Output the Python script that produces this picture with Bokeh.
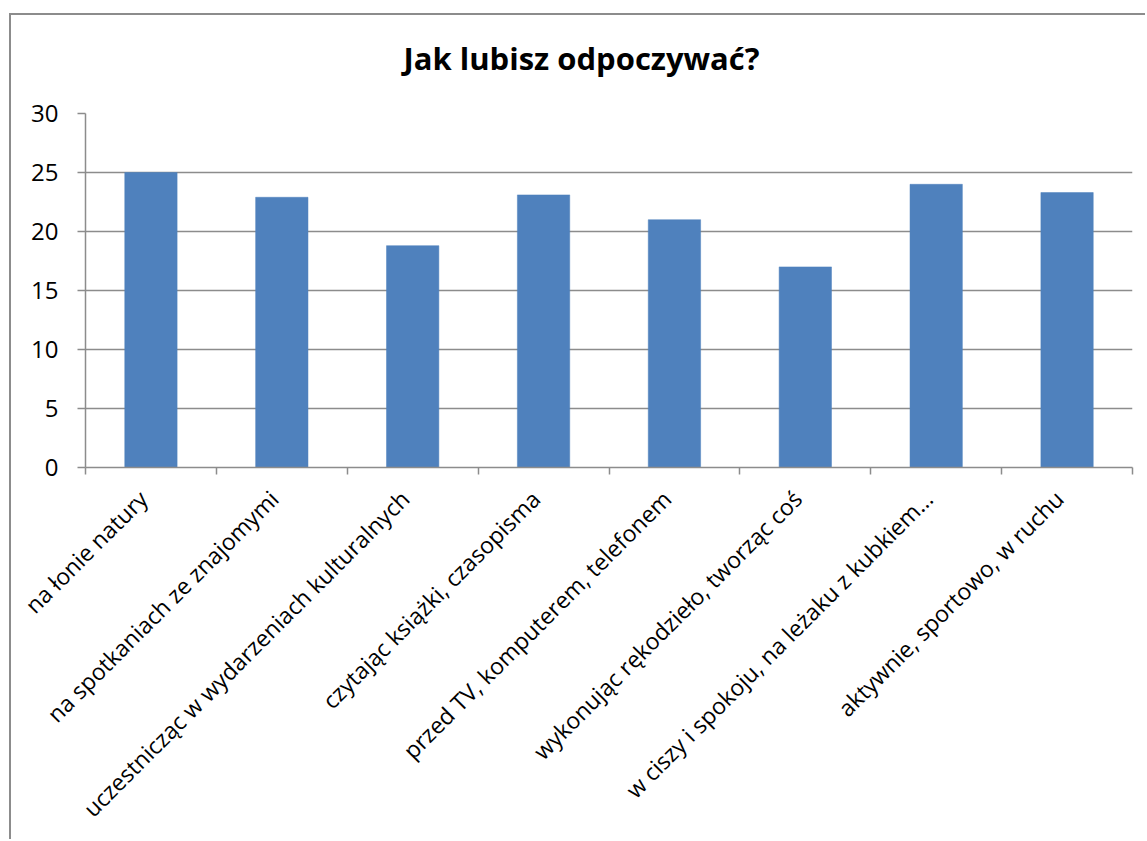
from bokeh.plotting import figure
from bokeh.models import FixedTicker, Range1d, Title
from bokeh.embed import file_html
from bokeh.resources import INLINE
import math

categories = [
    "na łonie natury",
    "na spotkaniach ze znajomymi",
    "uczestnicząc w wydarzeniach kulturalnych",
    "czytając książki, czasopisma",
    "przed TV, komputerem, telefonem",
    "wykonując rękodzieło, tworząc coś",
    "w ciszy i spokoju, na leżaku z kubkiem…",
    "aktywnie, sportowo, w ruchu",
]
values = [25.0, 22.9, 18.8, 23.1, 21.0, 17.0, 24.0, 23.3]
y_ticks = [0, 5, 10, 15, 20, 25, 30]
title_text = "Jak lubisz odpoczywać?"

n = len(categories)
centers = [i + 0.5 for i in range(n)]
bounds = list(range(n + 1))
# label anchor slightly left of bar centre (Excel-like placement of rotated labels)
label_pos = [c - 0.06 for c in centers]
y_max = y_ticks[-1]

FONT = "Open Sans"
GRAY = "#8c8c8c"

p = figure(
    width=1136, height=826,
    x_range=Range1d(0, n), y_range=Range1d(0, y_max),
    output_backend="svg", toolbar_location=None,
    min_border_left=74, min_border_right=15,
    min_border_top=0, min_border_bottom=374,
    title=None,
)
p.styles = {
    "margin-left": "9px",
    "margin-top": "13px",
    "border-left": "2px solid #8c8c8c",
    "border-top": "2px solid #8c8c8c",
}
p.outline_line_color = None
p.background_fill_color = "white"
p.border_fill_color = "white"

# spacer between the frame and the title (stacked outward in order added)
p.add_layout(Title(text=" ", text_font_size="1px", standoff=13), "above")
p.add_layout(Title(
    text=title_text, align="left", offset=318, vertical_align="bottom",
    text_font=FONT, text_font_style="bold", text_font_size="31px",
    text_color="black", standoff=38,
), "above")

p.vbar(x=centers, top=values, width=0.4, bottom=0,
       fill_color="#4f81bd", line_color="#4f81bd", line_width=0.5)

# Y axis
yax = p.yaxis[0]
yax.ticker = FixedTicker(ticks=y_ticks)
yax.axis_line_color = GRAY
yax.axis_line_width = 1.5
yax.major_tick_line_color = GRAY
yax.major_tick_line_width = 1.5
yax.major_tick_out = 8
yax.major_tick_in = 0
yax.minor_tick_line_color = None
yax.major_label_text_font = FONT
yax.major_label_text_font_size = "24px"
yax.major_label_text_color = "black"
yax.major_label_standoff = 19

# X axis
xax = p.xaxis[0]
xax.ticker = FixedTicker(ticks=label_pos, minor_ticks=bounds)
xax.major_label_overrides = {c: lab for c, lab in zip(label_pos, categories)}
xax.major_label_orientation = math.pi / 4
xax.major_label_text_font = FONT
xax.major_label_text_font_size = "23px"
xax.major_label_text_color = "black"
xax.major_label_standoff = 20
xax.axis_line_color = GRAY
xax.axis_line_width = 1.5
xax.major_tick_line_color = None
xax.major_tick_out = 0
xax.major_tick_in = 0
xax.minor_tick_line_color = GRAY
xax.minor_tick_line_width = 1.5
xax.minor_tick_out = 7
xax.minor_tick_in = 0

p.xgrid.grid_line_color = None
p.ygrid.ticker = FixedTicker(ticks=y_ticks)
p.ygrid.grid_line_color = GRAY
p.ygrid.grid_line_width = 1.5

open("out.html", "w").write(file_html(p, INLINE))
